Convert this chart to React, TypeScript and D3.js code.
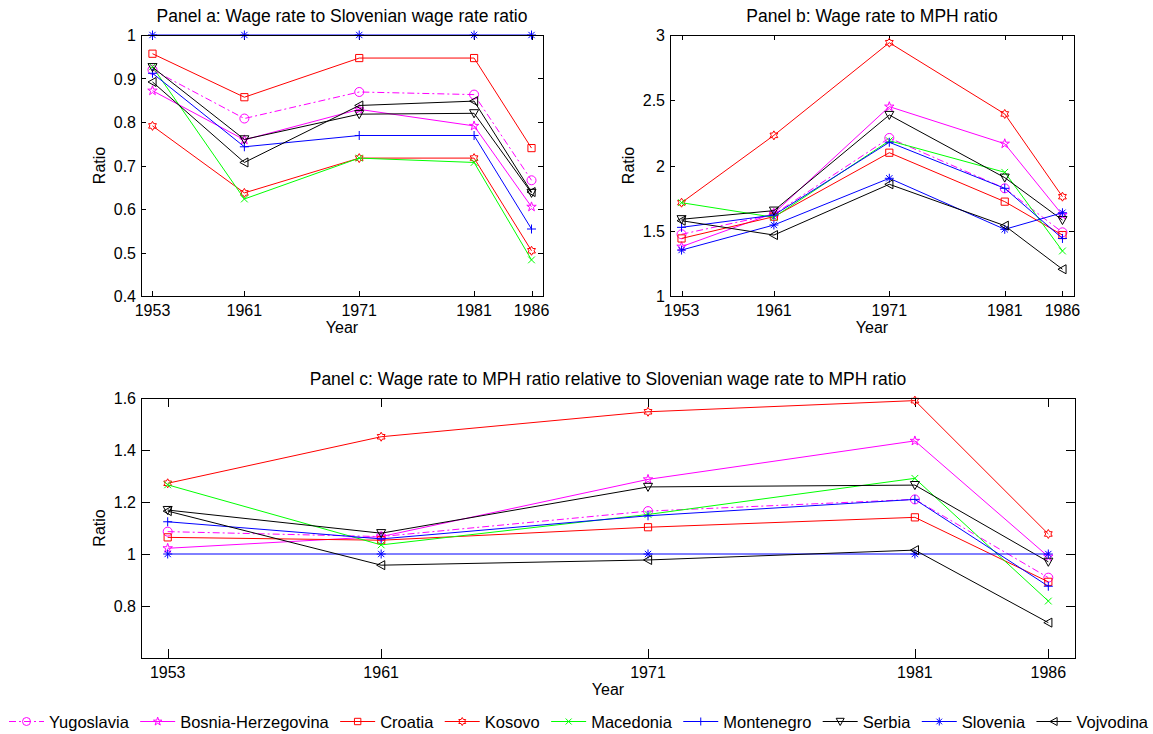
import React, { useRef, useEffect } from "react";
import * as d3 from "d3";

// census years on the x axis
const years = [1953, 1961, 1971, 1981, 1986];

const regions = [
  "Yugoslavia", "Bosnia-Herzegovina", "Croatia", "Kosovo", "Macedonia",
  "Montenegro", "Serbia", "Slovenia", "Vojvodina",
];

// panel a: wage rate / Slovenian wage rate (rows follow `regions`)
const wageToSlovenia = [
  [0.920, 0.808, 0.869, 0.863, 0.666],
  [0.872, 0.759, 0.829, 0.791, 0.605],
  [0.957, 0.857, 0.947, 0.947, 0.740],
  [0.791, 0.637, 0.717, 0.717, 0.504],
  [0.927, 0.623, 0.717, 0.707, 0.483],
  [0.912, 0.743, 0.769, 0.769, 0.554],
  [0.926, 0.760, 0.818, 0.820, 0.637],
  [1.000, 1.000, 1.000, 1.000, 1.000],
  [0.892, 0.707, 0.838, 0.848, 0.639],
];

// panel b: wage rate / MPH
const wageToMph = [
  [1.473, 1.626, 2.211, 1.825, 1.488],
  [1.378, 1.634, 2.451, 2.167, 1.621],
  [1.441, 1.608, 2.098, 1.723, 1.467],
  [1.715, 2.231, 2.941, 2.395, 1.761],
  [1.715, 1.603, 2.190, 1.948, 1.345],
  [1.526, 1.620, 2.178, 1.825, 1.441],
  [1.588, 1.654, 2.387, 1.907, 1.582],
  [1.352, 1.544, 1.902, 1.511, 1.638],
  [1.577, 1.467, 1.856, 1.539, 1.205],
];

// panel c: wage/MPH relative to Slovenian wage/MPH
const relativeToSlovenia = [
  [1.086, 1.067, 1.165, 1.210, 0.909],
  [1.022, 1.067, 1.287, 1.435, 0.990],
  [1.064, 1.053, 1.103, 1.141, 0.893],
  [1.272, 1.451, 1.547, 1.590, 1.077],
  [1.266, 1.035, 1.152, 1.291, 0.819],
  [1.124, 1.058, 1.147, 1.210, 0.876],
  [1.169, 1.080, 1.258, 1.265, 0.970],
  [1.000, 1.000, 1.000, 1.000, 1.000],
  [1.165, 0.957, 0.977, 1.015, 0.736],
];

const ticksA = [0.4, 0.5, 0.6, 0.7, 0.8, 0.9, 1];
const ticksB = [1, 1.5, 2, 2.5, 3];
const ticksC = [0.8, 1, 1.2, 1.4, 1.6];

const colors = ["#ff00ff", "#ff00ff", "#ff0000", "#ff0000", "#00ff00", "#0000ff", "#000000", "#0000ff", "#000000"];
const markers = ["circle", "pentagram", "square", "hexagram", "x", "plus", "triDown", "asterisk", "triLeft"];
const dashes = ["7,3,2,3", null, null, null, null, null, null, null, null];

const FONT = "'Liberation Sans', Arial, Helvetica, sans-serif";

function star(n: number, R: number, r: number) {
  const pts: string[] = [];
  for (let i = 0; i < n * 2; i++) {
    const a = -Math.PI / 2 + (i * Math.PI) / n;
    const rad = i % 2 === 0 ? R : r;
    pts.push(`${(rad * Math.cos(a)).toFixed(2)},${(rad * Math.sin(a)).toFixed(2)}`);
  }
  return "M" + pts.join("L") + "Z";
}

function markerPath(kind: string, s: number) {
  switch (kind) {
    case "circle":
      return `M${s},0A${s},${s} 0 1,1 ${-s},0A${s},${s} 0 1,1 ${s},0Z`;
    case "square":
      return `M${-s * 0.8},${-s * 0.8}H${s * 0.8}V${s * 0.8}H${-s * 0.8}Z`;
    case "pentagram":
      return star(5, s * 1.1, s * 1.1 * 0.382);
    case "hexagram":
      return star(6, s, s * 0.577);
    case "x":
      return `M${-s * 0.75},${-s * 0.75}L${s * 0.75},${s * 0.75}M${-s * 0.75},${s * 0.75}L${s * 0.75},${-s * 0.75}`;
    case "plus":
      return `M${-s},0H${s}M0,${-s}V${s}`;
    case "asterisk":
      return `M${-s},0H${s}M0,${-s}V${s}M${-s * 0.7},${-s * 0.7}L${s * 0.7},${s * 0.7}M${-s * 0.7},${s * 0.7}L${s * 0.7},${-s * 0.7}`;
    case "triDown":
      return `M${-s},${-s * 0.8}L${s},${-s * 0.8}L0,${s}Z`;
    case "triLeft":
      return `M${-s},0L${s * 0.8},${-s}L${s * 0.8},${s}Z`;
    default:
      return "";
  }
}

const panels = [
  { title: "Panel a: Wage rate to Slovenian wage rate ratio", values: wageToSlovenia, ticks: ticksA,
    left: 141, right: 543, top: 35, bottom: 296, yDomain: [0.4, 1], tickLen: 5 },
  { title: "Panel b: Wage rate to MPH ratio", values: wageToMph, ticks: ticksB,
    left: 670, right: 1074, top: 35, bottom: 296, yDomain: [1, 3], tickLen: 5 },
  { title: "Panel c: Wage rate to MPH ratio relative to Slovenian wage rate to MPH ratio", values: relativeToSlovenia, ticks: ticksC,
    left: 141, right: 1075, top: 398, bottom: 658, yDomain: [0.6, 1.6], tickLen: 9 },
];

const App = () => {
  const svgRef = useRef<SVGSVGElement>(null);

  useEffect(() => {
    const svg = d3.select(svgRef.current);
    svg.selectAll("*").remove();

    panels.forEach((p) => {
      const x = d3.scaleLinear().domain([1952, 1987]).range([p.left, p.right]);
      const y = d3.scaleLinear().domain(p.yDomain).range([p.bottom, p.top]);
      const g = svg.append("g");

      // ticks inside the box, on all four sides
      const tg = g.append("g").attr("stroke", "#000").attr("stroke-width", 1);
      years.forEach((yr) => {
        const xx = Math.round(x(yr)) + 0.5;
        tg.append("line").attr("x1", xx).attr("x2", xx).attr("y1", p.bottom).attr("y2", p.bottom - p.tickLen);
        tg.append("line").attr("x1", xx).attr("x2", xx).attr("y1", p.top).attr("y2", p.top + p.tickLen);
      });
      p.ticks.forEach((t) => {
        const yy = Math.round(y(t)) + 0.5;
        tg.append("line").attr("x1", p.left).attr("x2", p.left + p.tickLen).attr("y1", yy).attr("y2", yy);
        tg.append("line").attr("x1", p.right).attr("x2", p.right - p.tickLen).attr("y1", yy).attr("y2", yy);
      });

      // data lines + markers
      const line = d3.line<number>().x((_, i) => x(years[i])).y((d) => y(d));
      p.values.forEach((vals, si) => {
        g.append("path")
          .attr("d", line(vals))
          .attr("fill", "none")
          .attr("stroke", colors[si])
          .attr("stroke-width", 1)
          .attr("stroke-dasharray", dashes[si]);
        g.selectAll(null)
          .data(vals)
          .enter()
          .append("path")
          .attr("d", markerPath(markers[si], 4.5))
          .attr("transform", (d, i) => `translate(${x(years[i])},${y(d)})`)
          .attr("fill", "none")
          .attr("stroke", colors[si])
          .attr("stroke-width", 1);
      });

      // box
      g.append("rect")
        .attr("x", p.left + 0.5).attr("y", p.top + 0.5)
        .attr("width", p.right - p.left).attr("height", p.bottom - p.top)
        .attr("fill", "none").attr("stroke", "#000").attr("stroke-width", 1);

      // tick labels
      g.selectAll(null).data(years).enter().append("text")
        .attr("x", (d) => x(d)).attr("y", p.bottom + 20)
        .attr("text-anchor", "middle")
        .attr("font-size", 16).attr("font-family", FONT)
        .text((d) => String(d));
      g.selectAll(null).data(p.ticks).enter().append("text")
        .attr("x", p.left - 5).attr("y", (d) => y(d) + 6)
        .attr("text-anchor", "end")
        .attr("font-size", 16).attr("font-family", FONT)
        .text((d) => String(+d.toFixed(2)));

      // axis titles
      g.append("text")
        .attr("x", (p.left + p.right) / 2).attr("y", p.bottom + 37)
        .attr("text-anchor", "middle").attr("font-size", 16).attr("font-family", FONT)
        .text("Year");
      g.append("text")
        .attr("transform", `translate(${p.left - 36},${(p.top + p.bottom) / 2}) rotate(-90)`)
        .attr("text-anchor", "middle").attr("font-size", 16).attr("font-family", FONT)
        .text("Ratio");
      g.append("text")
        .attr("x", (p.left + p.right) / 2).attr("y", p.top - 13)
        .attr("text-anchor", "middle").attr("font-size", 17.5).attr("font-family", FONT)
        .text(p.title);
    });

    // legend: measure the labels first, then spread the items over 9..1148
    const lg = svg.append("g");
    const ly = 721.5;
    const sample = 35;
    const textGap = 5;
    const texts = regions.map((name) =>
      lg.append("text").attr("y", ly + 6).attr("font-size", 16.5).attr("font-family", FONT).text(name)
    );
    const widths = texts.map((t) => (t.node() as SVGTextElement).getComputedTextLength());
    const legLeft = 9;
    const legRight = 1148;
    const itemGap = (legRight - legLeft - d3.sum(widths) - regions.length * (sample + textGap)) / (regions.length - 1);
    let cx = legLeft;
    regions.forEach((name, si) => {
      lg.append("line")
        .attr("x1", cx).attr("x2", cx + sample).attr("y1", ly).attr("y2", ly)
        .attr("stroke", colors[si]).attr("stroke-width", 1)
        .attr("stroke-dasharray", dashes[si]);
      lg.append("path")
        .attr("d", markerPath(markers[si], 4))
        .attr("transform", `translate(${cx + sample / 2},${ly})`)
        .attr("fill", "none").attr("stroke", colors[si]).attr("stroke-width", 1);
      texts[si].attr("x", cx + sample + textGap);
      cx += sample + textGap + widths[si] + itemGap;
    });
  }, []);

  return (
    <svg ref={svgRef} width={1153} height={734}
      style={{ position: "absolute", left: 0, top: 0, background: "#fff" }} />
  );
};

export default App;
